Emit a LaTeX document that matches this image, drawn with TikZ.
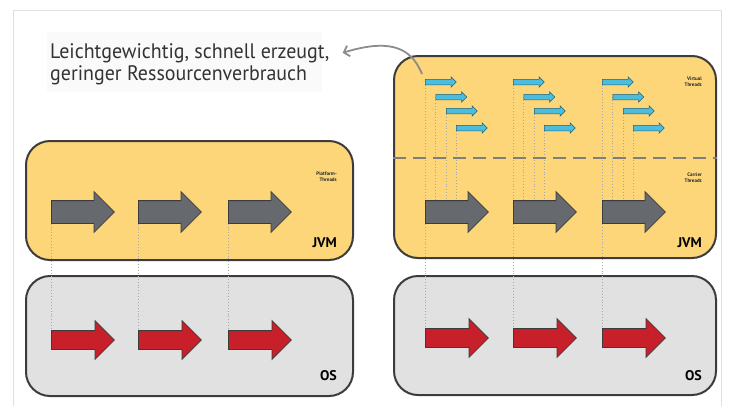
\documentclass[tikz,border=0pt]{standalone}
\usepackage{fontspec}
\setmainfont{PT Sans}
\newfontfamily\notefont[FakeStretch=0.95]{PT Sans}
\usetikzlibrary{shapes.arrows,arrows.meta}

\definecolor{jvmyellow}{HTML}{FCD679}
\definecolor{osgray}{HTML}{E1E1E1}
\definecolor{edgegray}{HTML}{3C3C3C}
\definecolor{threadgray}{HTML}{66696D}
\definecolor{osred}{HTML}{C8202A}
\definecolor{vblue}{HTML}{4BBEE0}
\definecolor{linkgray}{HTML}{A8A8A8}
\definecolor{framegray}{HTML}{E0E0E0}
\definecolor{notebg}{HTML}{FAFAFA}
\definecolor{notetext}{HTML}{333333}
\definecolor{pointergray}{HTML}{8C8C8C}
\definecolor{dividergray}{HTML}{7E7E7E}

\pgfdeclarelayer{boxes}
\pgfdeclarelayer{links}
\pgfsetlayers{boxes,links,main}

\begin{document}
\begin{tikzpicture}[x=1pt,y=-1pt,
  layer/.style={draw=edgegray, line width=2pt, rounded corners=24pt,
    anchor=north west, inner sep=0pt},
  thread/.style={single arrow, single arrow head indent=0pt, inner xsep=0pt,
    minimum width=0pt, anchor=tail, draw=edgegray},
  pthread/.style={thread, fill=threadgray, line width=0.8pt, inner ysep=11pt,
    minimum height=63pt, single arrow head extend=9pt},
  othread/.style={thread, fill=osred, line width=0.8pt, inner ysep=9pt,
    minimum height=63pt, single arrow head extend=10pt},
  vthread/.style={thread, fill=vblue, draw=vblue!50!black, line width=0.5pt,
    inner ysep=2.5pt, minimum height=31pt, single arrow head extend=2.5pt},
  link/.style={linkgray, line width=0.9pt, dotted},
  divider/.style={dividergray, line width=2.6pt, dash pattern=on 13pt off 7pt},
  layerlabel/.style={font=\fontsize{14}{16}\selectfont\bfseries, text=black,
    inner sep=0pt, anchor=base east},
  tinylabel/.style={font=\fontsize{5}{6}\selectfont\bfseries, text=black!85,
    inner sep=0pt, align=right, anchor=north east},
  note/.style={font=\notefont\fontsize{21}{22}\selectfont, text=notetext,
    inner sep=0pt, anchor=base west},
  pointer/.style={pointergray, line width=1.8pt,
    -{Straight Barb[length=5pt,width=11pt]}}
]
\useasboundingbox (0,0) rectangle (736,405);

% outer frame
\draw[framegray, line width=1pt] (13,420) -- (13,10) -- (721,10) -- (721,420);

% explanatory note
\fill[notebg] (47,32) rectangle (322,92);
\node[note] (note1) at (50,58) {Leichtgewichtig, schnell erzeugt,};
\node[note] (note2) at (50,80) {geringer Ressourcenverbrauch};

% layer boxes
\begin{pgfonlayer}{boxes}
  \node[layer, fill=jvmyellow, minimum width=327pt, minimum height=119pt] (ljvm) at (25,140) {};
  \node[layer, fill=osgray, minimum width=327pt, minimum height=120pt] (los) at (25,275) {};
  \node[layer, fill=jvmyellow, minimum width=322pt, minimum height=202pt] (rjvm) at (393,55) {};
  \node[layer, fill=osgray, minimum width=322pt, minimum height=119pt] (ros) at (393,275) {};
\end{pgfonlayer}

% divider between virtual and carrier threads
\coordinate (divy) at (0,158);
\draw[divider] (rjvm.west |- divy) -- (rjvm.east |- divy);

% platform threads, one OS thread each
\foreach \g [count=\i] in {51,138,228} {
  \node[pthread] (p\i) at (\g,212) {};
  \node[othread] (lo\i) at (\g,340) {};
}

% carrier threads with their virtual threads
\foreach \g [count=\i] in {425,513,602} {
  \node[pthread] (c\i) at (\g,212) {};
  \node[othread] (ro\i) at (\g,338) {};
  \foreach \dx/\y [count=\k] in {0/82,10.5/97,21/111,31/128}
    \node[vthread] (v\i-\k) at (\g+\dx,\y) {};
}

% dotted mapping lines
\begin{pgfonlayer}{links}
  \foreach \i in {1,2,3} {
    \draw[link] (p\i.tail) -- (lo\i.tail);
    \draw[link] (v\i-1.tail) -- (v\i-1.tail |- ro\i.tail);
    \foreach \k in {2,3,4}
      \draw[link] (v\i-\k.tail) -- (v\i-\k.tail |- c\i.tail);
  }
\end{pgfonlayer}

% labels
\node[tinylabel] (plabel) at (337,172) {Platform-\\Threads};
\node[tinylabel] (vlabel) at (702,77) {Virtual\\Threads};
\node[tinylabel] (clabel) at (702,173) {Carrier\\Threads};
\node[layerlabel] (ljvmlabel) at (337,247) {JVM};
\node[layerlabel] (rjvmlabel) at (702,247) {JVM};
\node[layerlabel] (loslabel) at (337,380) {OS};
\node[layerlabel] (roslabel) at (702,380) {OS};

% pointer from the virtual threads to the note
\coordinate (bend) at (422,74);
\draw[pointer] (bend) .. controls (410,44) and (385,40) .. ([xshift=13pt]note1.east);
\end{tikzpicture}
\end{document}
